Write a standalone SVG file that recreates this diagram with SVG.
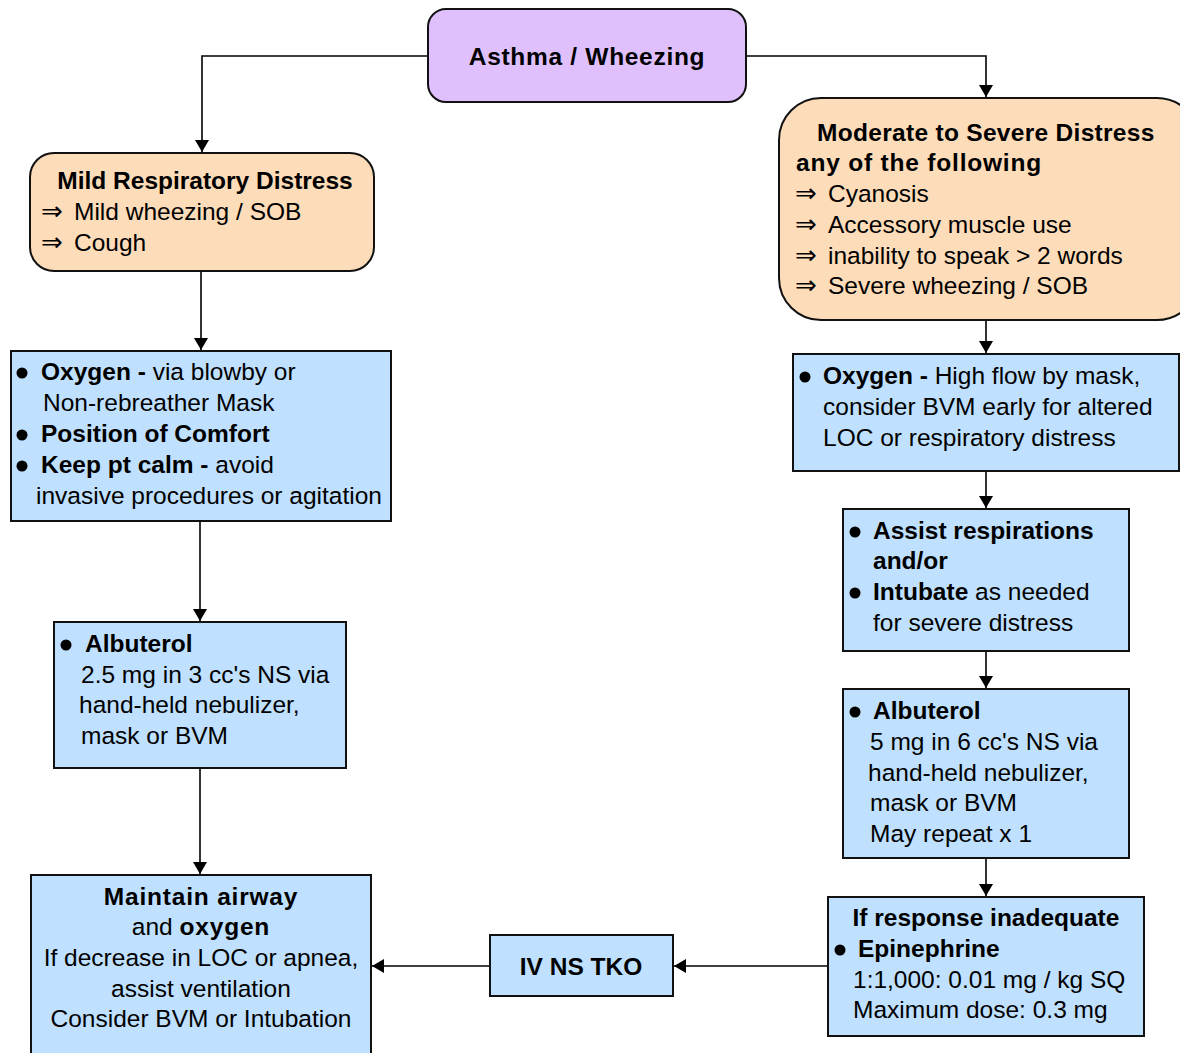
<svg xmlns="http://www.w3.org/2000/svg" width="1180" height="1053" viewBox="0 0 1180 1053">
<defs>
<marker id="ah" markerWidth="12" markerHeight="14" viewBox="0 0 12 14" refX="12" refY="7" orient="auto" markerUnits="userSpaceOnUse">
<path d="M0,0 L12,7 L0,14 z" fill="#000"/>
</marker>
<style>
text{font-family:"Liberation Sans",Arial,sans-serif;font-size:24.5px;fill:#000}
.b{font-weight:bold}
.c{text-anchor:middle}
.ar{font-family:"DejaVu Sans",sans-serif;font-size:26px}
.node{stroke:#111;stroke-width:2}
.pur{fill:#dfc0fd}
.pea{fill:#fddcb9}
.blu{fill:#bfe0ff}
.con{fill:none;stroke:#000;stroke-width:1.6;marker-end:url(#ah)}
.dot{fill:#000}
</style>
</defs>
<rect width="1180" height="1053" fill="#fff"/>
<g id="connectors">
<path class="con" d="M428,56 H202 V152"/>
<path class="con" d="M746,56 H986 V97"/>
<path class="con" d="M201,271 V350"/>
<path class="con" d="M200,521 V621"/>
<path class="con" d="M200,768 V874"/>
<path class="con" d="M986,320 V353"/>
<path class="con" d="M986,471 V508"/>
<path class="con" d="M986,651 V688"/>
<path class="con" d="M986,858 V896"/>
<path class="con" d="M828,966 H674"/>
<path class="con" d="M490,966 H372"/>
</g>
<g id="n-top">
<rect class="node pur" x="428" y="9" width="318" height="93" rx="18"/>
<text class="b c" x="587" y="65" letter-spacing="0.7">Asthma / Wheezing</text>
</g>
<g id="n-mild">
<rect class="node pea" x="30" y="153" width="344" height="118" rx="24"/>
<text class="b c" x="205" y="189">Mild Respiratory Distress</text>
<text class="ar" x="41" y="220">⇒</text>
<text x="74" y="220">Mild wheezing / SOB</text>
<text class="ar" x="41" y="251">⇒</text>
<text x="74" y="251">Cough</text>
</g>
<g id="n-mod">
<rect class="node pea" x="779" y="98" width="420" height="222" rx="42"/>
<text class="b" x="817" y="141" letter-spacing="0.3">Moderate to Severe Distress</text>
<text class="b" x="796" y="171" letter-spacing="0.8">any of the following</text>
<text class="ar" x="795" y="202">⇒</text>
<text x="828" y="202">Cyanosis</text>
<text class="ar" x="795" y="233">⇒</text>
<text x="828" y="233">Accessory muscle use</text>
<text class="ar" x="795" y="264">⇒</text>
<text x="828" y="264">inability to speak &gt; 2 words</text>
<text class="ar" x="795" y="294">⇒</text>
<text x="828" y="294">Severe wheezing / SOB</text>
</g>
<g id="n-oxy-left">
<rect class="node blu" x="11" y="351" width="380" height="170"/>
<circle class="dot" cx="22" cy="373" r="5.5"/>
<text x="41" y="380"><tspan class="b">Oxygen -</tspan> via blowby or</text>
<text x="43" y="411">Non-rebreather Mask</text>
<circle class="dot" cx="22" cy="435" r="5.5"/>
<text class="b" x="41" y="442">Position of Comfort</text>
<circle class="dot" cx="22" cy="466" r="5.5"/>
<text x="41" y="473"><tspan class="b">Keep pt calm -</tspan> avoid</text>
<text x="36" y="504">invasive procedures or agitation</text>
</g>
<g id="n-alb-left">
<rect class="node blu" x="54" y="622" width="292" height="146"/>
<circle class="dot" cx="66" cy="645" r="5.5"/>
<text class="b" x="85" y="652">Albuterol</text>
<text x="81" y="683">2.5 mg in 3 cc's NS via</text>
<text x="79" y="713">hand-held nebulizer,</text>
<text x="81" y="744">mask or BVM</text>
</g>
<g id="n-maintain">
<rect class="node blu" x="31" y="875" width="340" height="190"/>
<text class="b c" x="201" y="905" letter-spacing="0.8">Maintain airway</text>
<text class="c" x="201" y="935">and <tspan class="b" letter-spacing="0.8">oxygen</tspan></text>
<text class="c" x="201" y="966">If decrease in LOC or apnea,</text>
<text class="c" x="201" y="997">assist ventilation</text>
<text class="c" x="201" y="1027">Consider BVM or Intubation</text>
</g>
<g id="n-iv">
<rect class="node blu" x="490" y="935" width="183" height="61"/>
<text class="b c" x="581" y="975">IV NS TKO</text>
</g>
<g id="n-oxy-right">
<rect class="node blu" x="793" y="354" width="386" height="117"/>
<circle class="dot" cx="805" cy="377" r="5.5"/>
<text x="823" y="384"><tspan class="b">Oxygen -</tspan> High flow by mask,</text>
<text x="823" y="415">consider BVM early for altered</text>
<text x="823" y="446">LOC or respiratory distress</text>
</g>
<g id="n-assist">
<rect class="node blu" x="843" y="509" width="286" height="142"/>
<circle class="dot" cx="855" cy="532" r="5.5"/>
<text class="b" x="873" y="539">Assist respirations</text>
<text class="b" x="873" y="569">and/or</text>
<circle class="dot" cx="855" cy="593" r="5.5"/>
<text x="873" y="600"><tspan class="b">Intubate</tspan> as needed</text>
<text x="873" y="631">for severe distress</text>
</g>
<g id="n-alb-right">
<rect class="node blu" x="843" y="689" width="286" height="169"/>
<circle class="dot" cx="855" cy="712" r="5.5"/>
<text class="b" x="873" y="719">Albuterol</text>
<text x="870" y="750">5 mg in 6 cc's NS via</text>
<text x="868" y="781">hand-held nebulizer,</text>
<text x="870" y="811">mask or BVM</text>
<text x="870" y="842">May repeat x 1</text>
</g>
<g id="n-epi">
<rect class="node blu" x="828" y="897" width="316" height="139"/>
<text class="b c" x="986" y="926">If response inadequate</text>
<circle class="dot" cx="840" cy="950" r="5.5"/>
<text class="b" x="858" y="957">Epinephrine</text>
<text x="853" y="988">1:1,000: 0.01 mg / kg SQ</text>
<text x="853" y="1018">Maximum dose: 0.3 mg</text>
</g>
</svg>
